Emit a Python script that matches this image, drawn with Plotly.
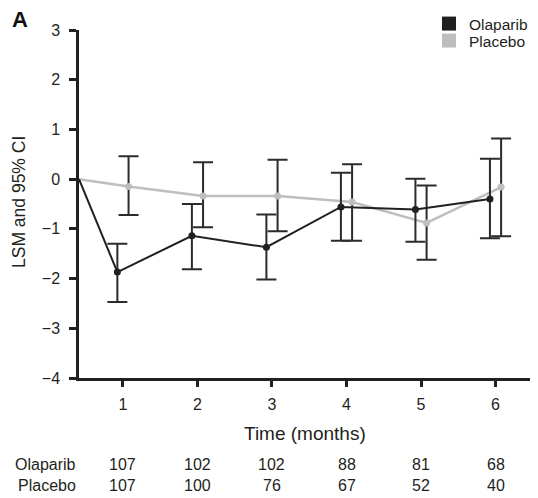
import plotly.graph_objects as go

# ---- data ----
months = [1, 2, 3, 4, 5, 6]
baseline = 0.0

olaparib_lsm = [-1.87, -1.14, -1.37, -0.56, -0.61, -0.40]
olaparib_lo = [-2.47, -1.81, -2.02, -1.24, -1.26, -1.19]
olaparib_hi = [-1.30, -0.50, -0.71, 0.13, 0.01, 0.41]

placebo_lsm = [-0.15, -0.34, -0.34, -0.46, -0.88, -0.16]
placebo_lo = [-0.72, -0.97, -1.05, -1.24, -1.62, -1.15]
placebo_hi = [0.46, 0.34, 0.39, 0.30, -0.13, 0.82]

olaparib_n = [107, 102, 102, 88, 81, 68]
placebo_n = [107, 100, 76, 67, 52, 40]

series_names = ["Olaparib", "Placebo"]
y_ticks = [3, 2, 1, 0, -1, -2, -3, -4]

# ---- style ----
PAGE_OFF = 8                      # default body margin of the html page
W, H = 538 - PAGE_OFF, 498 - PAGE_OFF
ML, MR, MT, MB = 79 - PAGE_OFF, 0, 30 - PAGE_OFF, 120
X_START, X_END = 0.41, 6.57
DODGE = 0.075
FONT = "Liberation Sans, Arial, Helvetica, sans-serif"
INK = "#231f20"
BAR_INK = "#2b2b2b"
GREY = "#bdbec0"

pw = W - ML - MR
ph = H - MT - MB

def px_x(px):   # reference-page pixel -> paper coordinate
    return (px - PAGE_OFF - ML) / pw

def px_y(py):
    return (H - MB - (py - PAGE_OFF)) / ph

fig = go.Figure()

def add_series(name, lsm, lo, hi, color, dodge, lw, legend_id):
    xs = [m + dodge for m in months]
    fig.add_trace(go.Scatter(
        x=[X_START] + xs, y=[baseline] + lsm, mode="lines",
        line=dict(color=color, width=lw), showlegend=False, hoverinfo="skip"))
    fig.add_trace(go.Scatter(
        x=xs, y=lsm, mode="markers",
        marker=dict(color=color, size=7),
        error_y=dict(type="data", symmetric=False,
                     array=[h - v for h, v in zip(hi, lsm)],
                     arrayminus=[v - l for v, l in zip(lsm, lo)],
                     color=BAR_INK, thickness=2, width=10),
        showlegend=False, name=name))
    fig.add_trace(go.Scatter(
        x=[None], y=[None], mode="markers", name=name, legend=legend_id,
        marker=dict(symbol="square", size=14, color=color)))

add_series(series_names[1], placebo_lsm, placebo_lo, placebo_hi, GREY, DODGE, 2.5, "legend2")
add_series(series_names[0], olaparib_lsm, olaparib_lo, olaparib_hi, INK, -DODGE, 2, "legend")

annotations = []
annotations.append(dict(text="LSM and 95% CI", textangle=-90, xref="paper", yref="paper",
                        x=px_x(19), y=px_y(202), xanchor="center", yanchor="middle",
                        showarrow=False, font=dict(size=17.5, color=INK, family=FONT)))
annotations.append(dict(text="Time (months)", xref="paper", yref="paper",
                        x=px_x(305), y=px_y(433), xanchor="center", yanchor="middle",
                        showarrow=False, font=dict(size=19, color=INK, family=FONT)))
annotations.append(dict(text="<b>A</b>", xref="paper", yref="paper",
                        x=px_x(20), y=px_y(20), xanchor="center", yanchor="middle",
                        showarrow=False, font=dict(size=22, color="#111111", family=FONT)))
for label, counts, py in [(series_names[0], olaparib_n, 464), (series_names[1], placebo_n, 485)]:
    annotations.append(dict(text=label, xref="paper", yref="paper", x=px_x(78), y=px_y(py),
                            xanchor="right", yanchor="middle", showarrow=False,
                            font=dict(size=16, color=INK, family=FONT)))
    for m, n in zip(months, counts):
        annotations.append(dict(text=str(n), xref="x", yref="paper", x=m, y=px_y(py),
                                xanchor="center", yanchor="middle", showarrow=False,
                                font=dict(size=16, color=INK, family=FONT)))

def legend_box(py):
    return dict(x=px_x(429), y=px_y(py), xanchor="left", yanchor="middle",
                bgcolor="rgba(0,0,0,0)", borderwidth=0,
                font=dict(size=15.5, color=INK, family=FONT), itemwidth=30)

def fmt(v):
    return str(v).replace("-", "\u2212")

fig.update_layout(
    width=W, height=H,
    margin=dict(l=ML, r=MR, t=MT, b=MB, pad=0, autoexpand=False),
    paper_bgcolor="white", plot_bgcolor="white",
    font=dict(family=FONT, size=16, color=INK),
    showlegend=True,
    legend=legend_box(24),
    legend2=legend_box(41),
    annotations=annotations,
    xaxis=dict(range=[X_START, X_END], tickvals=months, ticktext=[fmt(m) for m in months],
               showgrid=False, zeroline=False, showline=True, linecolor=INK, linewidth=2.5,
               ticks="outside", ticklen=6, tickwidth=2.5, tickcolor=INK,
               tickfont=dict(size=16, color=INK, family=FONT), ticklabelstandoff=4),
    yaxis=dict(range=[-4, 3], tickvals=y_ticks, ticktext=[fmt(v) for v in y_ticks],
               showgrid=False, zeroline=False, showline=True, linecolor=INK, linewidth=2.5,
               ticks="outside", ticklen=7, tickwidth=2.5, tickcolor=INK,
               tickfont=dict(size=16, color=INK, family=FONT), ticklabelstandoff=6),
)

fig.write_html("out.html")
